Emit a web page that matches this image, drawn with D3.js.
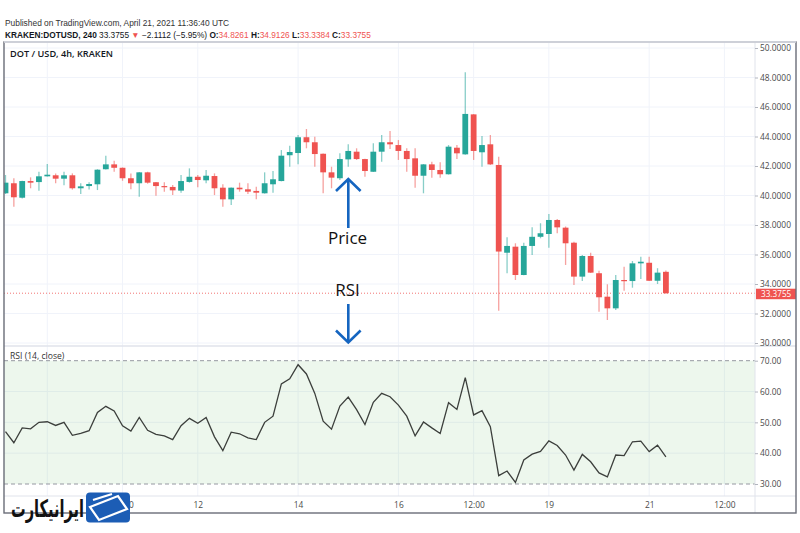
<!DOCTYPE html>
<html>
<head>
<meta charset="utf-8">
<script src="https://cdn.jsdelivr.net/npm/d3@7"></script>
<style>
  body { margin: 0; background: #fff; }
  svg { display: block; font-family: "Open Sans", sans-serif; }
</style>
</head>
<body>
<svg id="chart"></svg>
<script>
// ---- data ----
const openP = [40.15, 40.83, 39.85, 40.98, 40.91, 41.30, 41.37, 41.14, 41.37, 40.49,
    40.64, 40.76, 41.78, 42.11, 41.88, 41.17, 40.83, 41.57, 40.90, 40.64,
    40.58, 40.33, 40.92, 41.27, 41.03, 41.32, 40.53, 39.74, 40.53, 40.42,
    40.31, 40.15, 40.76, 40.98, 42.73, 42.88, 43.95, 43.61, 42.83, 41.57,
    41.17, 42.45, 42.97, 42.47, 41.61, 42.97, 43.61, 43.42, 43.02, 42.52,
    41.34, 42.11, 41.73, 41.44, 43.24, 42.79, 45.50, 42.93, 43.47, 42.07,
    36.12, 36.53, 34.61, 36.58, 37.20, 37.39, 38.34, 37.82, 36.80, 34.50,
    35.90, 34.73, 33.14, 32.35, 34.27, 34.20, 35.40, 35.44, 34.22, 34.8261];
const highP = [41.39, 41.17, 41.00, 41.23, 41.61, 42.14, 41.50, 41.61, 41.50, 40.83,
    40.90, 41.78, 42.70, 42.36, 41.90, 41.50, 41.60, 41.61, 40.92, 40.90,
    40.71, 41.39, 41.84, 41.39, 41.73, 41.50, 40.76, 40.55, 40.87, 40.83,
    40.60, 41.57, 41.66, 43.08, 43.38, 44.10, 44.51, 43.99, 42.85, 41.95,
    42.86, 43.47, 43.20, 42.49, 43.54, 44.10, 44.37, 43.76, 43.20, 43.20,
    42.13, 42.29, 42.25, 43.42, 43.42, 48.35, 45.52, 44.03, 44.10, 42.63,
    37.17, 36.76, 36.80, 37.84, 38.12, 38.75, 38.40, 37.90, 36.87, 35.97,
    36.12, 34.90, 33.98, 34.61, 35.17, 35.56, 35.85, 35.85, 35.07, 34.9126];
const lowP = [40.10, 39.24, 39.80, 40.49, 40.33, 41.28, 40.83, 40.69, 40.40, 40.10,
    40.40, 40.37, 41.76, 41.61, 41.00, 40.42, 39.92, 40.80, 39.99, 40.26,
    40.03, 40.19, 40.87, 40.56, 40.83, 40.03, 39.24, 39.36, 40.26, 40.10,
    39.74, 40.13, 40.19, 40.96, 41.95, 42.12, 43.20, 41.95, 40.15, 40.49,
    41.05, 41.95, 42.41, 41.27, 41.59, 42.29, 43.15, 42.41, 41.61, 40.53,
    40.15, 41.21, 41.21, 41.42, 42.47, 42.77, 42.41, 41.95, 42.07, 32.19,
    34.73, 34.27, 34.59, 35.97, 37.10, 36.46, 37.44, 35.29, 33.93, 34.20,
    34.75, 32.12, 31.56, 32.24, 33.55, 33.75, 34.34, 34.20, 34.00, 33.3384];
const closeP = [40.87, 39.88, 40.98, 40.87, 41.30, 41.41, 41.14, 41.37, 40.49, 40.62,
    40.78, 41.75, 42.11, 41.88, 41.17, 40.83, 41.57, 40.87, 40.64, 40.60,
    40.35, 40.98, 41.27, 41.05, 41.34, 40.49, 39.74, 40.53, 40.42, 40.26,
    40.19, 40.83, 41.10, 42.70, 42.95, 43.95, 43.61, 42.81, 41.57, 41.21,
    42.47, 43.02, 42.47, 41.66, 42.97, 43.61, 43.47, 43.02, 42.47, 41.34,
    42.11, 41.73, 41.44, 43.31, 42.86, 45.53, 43.02, 43.42, 42.11, 36.20,
    36.58, 34.61, 36.58, 37.20, 37.44, 38.34, 37.84, 36.76, 34.50, 35.90,
    34.77, 33.10, 32.35, 34.27, 34.20, 35.40, 35.51, 34.22, 34.77, 33.3755];
const rsi = [47.0, 43.4, 48.2, 47.9, 50.0, 50.2, 49.0, 50.0, 45.8, 46.4,
    47.3, 53.2, 55.2, 53.7, 48.9, 47.2, 51.6, 47.4, 46.1, 45.6,
    44.4, 48.9, 51.3, 49.7, 51.6, 45.3, 40.8, 46.8, 46.3, 45.0,
    44.4, 50.0, 52.0, 62.5, 64.1, 68.7, 65.7, 59.4, 50.4, 47.8,
    55.3, 58.2, 54.1, 49.3, 56.5, 59.4, 58.3, 55.6, 52.0, 45.6,
    50.1, 48.2, 46.4, 56.4, 54.2, 64.5, 52.4, 53.8, 48.6, 32.7,
    34.2, 30.5, 37.8, 39.7, 40.6, 44.0, 42.5, 39.4, 34.5, 39.6,
    37.2, 33.6, 32.3, 39.4, 39.2, 43.7, 43.9, 40.5, 42.6, 38.8];

const lastPrice = 33.3755;
const priceTicks = [30, 32, 34, 36, 38, 40, 42, 44, 46, 48, 50];
const rsiTicks = [30, 40, 50, 60, 70];
const timeTicks = ["2021-04-09T00:00Z", "2021-04-10T12:00Z", "2021-04-12T00:00Z", "2021-04-14T00:00Z",
    "2021-04-16T00:00Z", "2021-04-17T12:00Z", "2021-04-19T00:00Z", "2021-04-21T00:00Z", "2021-04-22T12:00Z"];
const timeLabels = ["", "12:00", "12", "14", "16", "12:00", "19", "21", "12:00"];

const firstBar = new Date("2021-04-08T04:00Z");
const barMs = 4 * 3600 * 1000;
const bars = openP.map((o, i) => ({
    t: new Date(firstBar.getTime() + i * barMs),
    o: o, h: highP[i], l: lowP[i], c: closeP[i], r: rsi[i]
}));

// ---- layout ----
const width = 800, height = 533;
const frame = {left: 4, right: 796, top: 42, bottom: 513};
const axisX = 755;
const paneSplit = 346;
const timeAxisY = 496;

const up = "#26a69a", down = "#ef5350";
const gridColor = "#f0f3fa";

const svg = d3.select("#chart").attr("width", width).attr("height", height);

const x = d3.scaleUtc()
    .domain([bars[0].t, bars[bars.length - 1].t])
    .range([5.5, 665.9]);
const yPrice = d3.scaleLinear().domain([30, 50]).range([343, 48]);
const yRsi = d3.scaleLinear().domain([30, 70]).range([484, 360.7]);

const defs = svg.append("defs");
defs.append("clipPath").attr("id", "clip-price")
    .append("rect").attr("x", frame.left).attr("y", frame.top)
    .attr("width", axisX - frame.left).attr("height", paneSplit - frame.top);

// ---- header ----
const headFont = "Liberation Sans, Arial, sans-serif";
svg.append("text").attr("x", 5).attr("y", 26)
    .attr("font-family", headFont).attr("font-size", 8.4).attr("fill", "#333")
    .text("Published on TradingView.com, April 21, 2021 11:36:40 UTC");

const info = svg.append("text").attr("x", 5).attr("y", 37.5)
    .attr("font-family", headFont).attr("font-size", 8.3).attr("fill", "#131722");
info.append("tspan").attr("font-weight", 700).text("KRAKEN:DOTUSD, 240 ");
info.append("tspan").text("33.3755 ");
info.append("tspan").attr("fill", down).text("▼ ");
info.append("tspan").text("−2.1112 (−5.95%) ");
[["O:", "34.8261"], ["H:", "34.9126"], ["L:", "33.3384"], ["C:", "33.3755"]].forEach(([k, v], i) => {
    info.append("tspan").attr("font-weight", 700).text((i ? " " : "") + k);
    info.append("tspan").attr("fill", down).text(v);
});

// ---- grid ----
const grid = svg.append("g");
timeTicks.forEach(t => {
    const gx = x(new Date(t));
    grid.append("line").attr("x1", gx).attr("x2", gx)
        .attr("y1", frame.top).attr("y2", timeAxisY)
        .attr("stroke", gridColor).attr("stroke-width", 1);
});
priceTicks.forEach(p => {
    grid.append("line").attr("x1", frame.left).attr("x2", axisX)
        .attr("y1", yPrice(p)).attr("y2", yPrice(p))
        .attr("stroke", gridColor).attr("stroke-width", 1);
});
[40, 50, 60].forEach(v => {
    grid.append("line").attr("x1", frame.left).attr("x2", axisX)
        .attr("y1", yRsi(v)).attr("y2", yRsi(v))
        .attr("stroke", gridColor).attr("stroke-width", 1);
});

// ---- price pane ----
const pricePane = svg.append("g").attr("clip-path", "url(#clip-price)");

pricePane.append("line")
    .attr("x1", frame.left).attr("x2", axisX)
    .attr("y1", yPrice(lastPrice)).attr("y2", yPrice(lastPrice))
    .attr("stroke", down).attr("stroke-width", 1)
    .attr("stroke-dasharray", "1,2").attr("stroke-opacity", 0.8);

const bodyW = 5.8;
const candle = pricePane.selectAll("g.candle").data(bars).join("g").attr("class", "candle");
candle.append("line")
    .attr("x1", d => x(d.t)).attr("x2", d => x(d.t))
    .attr("y1", d => yPrice(d.h)).attr("y2", d => yPrice(d.l))
    .attr("stroke", d => d.c >= d.o ? up : down)
    .attr("stroke-opacity", 0.55).attr("stroke-width", 1.3);
candle.append("rect")
    .attr("x", d => x(d.t) - bodyW / 2).attr("width", bodyW)
    .attr("y", d => yPrice(Math.max(d.o, d.c)))
    .attr("height", d => Math.max(1.2, Math.abs(yPrice(d.o) - yPrice(d.c))))
    .attr("fill", d => d.c >= d.o ? up : down);

svg.append("text").attr("x", 10).attr("y", 56.5)
    .attr("font-size", 9.2).attr("font-weight", 600).attr("fill", "#131722")
    .text("DOT / USD, 4h, KRAKEN");

// ---- RSI pane ----
const rsiPane = svg.append("g");
rsiPane.append("rect")
    .attr("x", frame.left).attr("width", axisX - frame.left)
    .attr("y", yRsi(70)).attr("height", yRsi(30) - yRsi(70))
    .attr("fill", "#4caf50").attr("fill-opacity", 0.1);
[70, 30].forEach(v => {
    rsiPane.append("line").attr("x1", frame.left).attr("x2", axisX)
        .attr("y1", yRsi(v)).attr("y2", yRsi(v))
        .attr("stroke", "#9598a1").attr("stroke-width", 1)
        .attr("stroke-dasharray", "4,3");
});
rsiPane.append("path")
    .datum(bars)
    .attr("fill", "none").attr("stroke", "#3c3f3c").attr("stroke-width", 1.3)
    .attr("d", d3.line().x(d => x(d.t)).y(d => yRsi(d.r)));
svg.append("text").attr("x", 10).attr("y", 359)
    .attr("font-size", 8.6).attr("fill", "#333")
    .text("RSI (14, close)");

// ---- separators ----
svg.append("line").attr("x1", frame.left).attr("x2", frame.right)
    .attr("y1", paneSplit).attr("y2", paneSplit).attr("stroke", "#e0e3eb").attr("stroke-width", 1.5);
svg.append("line").attr("x1", frame.left).attr("x2", frame.right)
    .attr("y1", timeAxisY).attr("y2", timeAxisY).attr("stroke", "#e0e3eb").attr("stroke-width", 1);
svg.append("line").attr("x1", axisX).attr("x2", axisX)
    .attr("y1", frame.top).attr("y2", frame.bottom).attr("stroke", "#e0e3eb").attr("stroke-width", 1);

// ---- axes ----
const priceAxis = svg.append("g")
    .attr("transform", `translate(${axisX},0)`)
    .call(d3.axisRight(yPrice).tickValues(priceTicks).tickFormat(d3.format(".4f")).tickSize(3).tickPadding(2));
const rsiAxis = svg.append("g")
    .attr("transform", `translate(${axisX},0)`)
    .call(d3.axisRight(yRsi).tickValues(rsiTicks).tickFormat(d3.format(".2f")).tickSize(3).tickPadding(2));
const timeAxis = svg.append("g")
    .attr("transform", `translate(0,${timeAxisY})`)
    .call(d3.axisBottom(x).tickValues(timeTicks.map(t => new Date(t)))
        .tickFormat((d, i) => timeLabels[i]).tickSize(0).tickPadding(6));
[priceAxis, rsiAxis, timeAxis].forEach(g => {
    g.select(".domain").remove();
    g.selectAll(".tick line").attr("stroke", "#b2b5be");
    g.selectAll("text").attr("font-family", "Open Sans, sans-serif")
        .attr("font-size", 8.4).attr("fill", "#4a4a4a");
});

// cover the lower half of 30.0000, cut by the pane split as in the screenshot
svg.append("rect").attr("x", axisX + 1).attr("y", paneSplit + 1)
    .attr("width", frame.right - axisX - 2).attr("height", 8).attr("fill", "#fff");
rsiAxis.raise();

// last price tag
const tag = svg.append("g").attr("transform", `translate(${axisX + 1},${yPrice(lastPrice)})`);
tag.append("rect").attr("x", 0).attr("y", -4.5).attr("width", frame.right - axisX - 1).attr("height", 10.5)
    .attr("fill", down);
tag.append("text").attr("x", 5).attr("y", 3.8).attr("font-size", 8.2).attr("fill", "#fff")
    .text(d3.format(".4f")(lastPrice));

// frame
svg.append("rect")
    .attr("x", frame.left).attr("y", frame.top)
    .attr("width", frame.right - frame.left).attr("height", frame.bottom - frame.top)
    .attr("fill", "none").attr("stroke", "#6a6d78").attr("stroke-width", 1.4);
svg.append("line").attr("x1", frame.left).attr("x2", frame.right)
    .attr("y1", frame.top).attr("y2", frame.top).attr("stroke", "#e0e3eb").attr("stroke-width", 1.5);

// ---- annotations ----
const blue = "#1565c0";
const ann = svg.append("g").attr("stroke", blue).attr("stroke-width", 2.6)
    .attr("fill", "none").attr("stroke-linecap", "butt").attr("stroke-linejoin", "miter");
ann.append("line").attr("x1", 348.3).attr("x2", 348.3).attr("y1", 228).attr("y2", 179.5);
ann.append("path").attr("d", "M336,191 L348.3,179 L360.6,191");
ann.append("line").attr("x1", 348.3).attr("x2", 348.3).attr("y1", 304).attr("y2", 342);
ann.append("path").attr("d", "M336,330.5 L348.3,342.5 L360.6,330.5");

svg.append("text").attr("x", 347.5).attr("y", 243.5).attr("text-anchor", "middle")
    .attr("font-size", 17).attr("fill", "#111").text("Price");
svg.append("text").attr("x", 347.5).attr("y", 295.5).attr("text-anchor", "middle")
    .attr("font-size", 17).attr("fill", "#111").text("RSI");

// ---- logo ----
const logo = svg.append("g");
logo.append("text").attr("x", 84).attr("y", 517).attr("text-anchor", "end")
    .attr("font-family", "DejaVu Sans, sans-serif").attr("font-weight", 700)
    .attr("font-size", 24).attr("fill", "#111")
    .attr("textLength", 73).attr("lengthAdjust", "spacingAndGlyphs")
    .text("ایرانیکارت");
logo.append("rect").attr("x", 86).attr("y", 492.5).attr("width", 44).attr("height", 30)
    .attr("rx", 4).attr("fill", "#1c5db5");
logo.append("path").attr("d", "M90,507 L118,496 L127,509 L99,520 Z")
    .attr("fill", "none").attr("stroke", "#fff").attr("stroke-width", 2.2);
logo.append("path").attr("d", "M93,500 L112,494")
    .attr("fill", "none").attr("stroke", "#fff").attr("stroke-width", 2.2);
</script>
</body>
</html>
